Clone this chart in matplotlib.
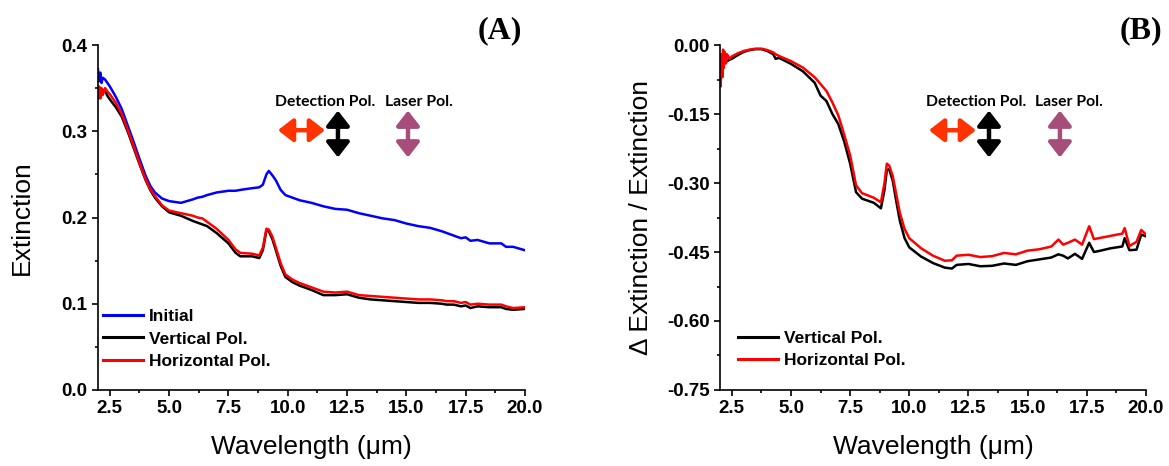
import matplotlib
matplotlib.use("Agg")
import matplotlib.pyplot as plt
from matplotlib.ticker import MultipleLocator, FormatStrFormatter, FuncFormatter

plt.rcParams['font.family'] = ['Liberation Sans', 'DejaVu Sans']
plt.rcParams['axes.unicode_minus'] = False

# ---- panel A data (wavelength in um, extinction) ----
wl_a = [2.0, 2.05, 2.1, 2.15, 2.2, 2.3, 2.4, 2.5, 2.75, 3.0, 3.25, 3.5, 3.75, 4.0, 4.2, 4.4,
        4.7, 5.0, 5.5, 6.0, 6.2, 6.4, 6.6, 7.0, 7.5, 7.8, 8.0, 8.5, 8.8, 8.95, 9.1, 9.2,
        9.35, 9.5, 9.7, 9.9, 10.2, 10.5, 11.0, 11.5, 12.0, 12.5, 13.0, 13.5, 14.0, 14.5,
        15.0, 15.5, 16.0, 16.5, 16.7, 17.0, 17.3, 17.5, 17.7, 18.0, 18.5, 19.0, 19.2, 19.5, 20.0]
initial_a = [0.372, 0.358, 0.368, 0.356, 0.362, 0.360, 0.356, 0.352, 0.340, 0.326, 0.307, 0.288,
             0.268, 0.249, 0.237, 0.229, 0.222, 0.219, 0.217, 0.221, 0.223, 0.224, 0.226, 0.229,
             0.231, 0.231, 0.232, 0.234, 0.235, 0.238, 0.250, 0.254, 0.249, 0.243, 0.232, 0.226,
             0.223, 0.220, 0.217, 0.213, 0.210, 0.209, 0.205, 0.202, 0.199, 0.197, 0.193, 0.190,
             0.188, 0.184, 0.182, 0.179, 0.176, 0.177, 0.173, 0.174, 0.170, 0.170, 0.166, 0.166, 0.162]
vertical_a = [0.345, 0.340, 0.350, 0.342, 0.348, 0.347, 0.341, 0.337, 0.328, 0.317, 0.300, 0.281,
              0.262, 0.244, 0.232, 0.223, 0.213, 0.206, 0.202, 0.196, 0.194, 0.192, 0.190, 0.182,
              0.170, 0.159, 0.155, 0.155, 0.153, 0.162, 0.185, 0.184, 0.175, 0.162, 0.144, 0.131,
              0.125, 0.121, 0.116, 0.110, 0.110, 0.111, 0.107, 0.105, 0.104, 0.103, 0.102, 0.101,
              0.101, 0.100, 0.099, 0.099, 0.097, 0.098, 0.095, 0.097, 0.096, 0.096, 0.094, 0.093, 0.094]
horizontal_a = [0.338, 0.352, 0.338, 0.350, 0.342, 0.350, 0.346, 0.343, 0.333, 0.320, 0.302, 0.283,
                0.263, 0.245, 0.233, 0.225, 0.214, 0.208, 0.205, 0.202, 0.200, 0.199, 0.195, 0.187,
                0.174, 0.163, 0.159, 0.158, 0.156, 0.165, 0.187, 0.186, 0.178, 0.165, 0.147, 0.134,
                0.128, 0.124, 0.119, 0.114, 0.113, 0.114, 0.110, 0.109, 0.108, 0.107, 0.106, 0.105,
                0.105, 0.104, 0.103, 0.103, 0.101, 0.102, 0.099, 0.100, 0.099, 0.099, 0.097, 0.095, 0.096]

# ---- panel B data (relative change of extinction) ----
wl_b = [2.0, 2.03, 2.06, 2.1, 2.13, 2.16, 2.2, 2.25, 2.3, 2.4, 2.5, 2.75, 3.0, 3.25, 3.5, 3.75,
        4.0, 4.25, 4.35, 4.5, 5.0, 5.5, 6.0, 6.25, 6.5, 6.75, 7.0, 7.25, 7.5, 7.75, 8.0, 8.5,
        8.8, 8.95, 9.05, 9.15, 9.3, 9.45, 9.6, 9.8, 10.0, 10.5, 11.0, 11.5, 11.8, 12.0, 12.5,
        13.0, 13.5, 14.0, 14.5, 15.0, 15.5, 16.0, 16.3, 16.5, 16.7, 17.0, 17.3, 17.6, 17.8,
        18.0, 18.5, 19.0, 19.1, 19.3, 19.6, 19.8, 20.0]
vertical_b = [-0.035, -0.045, -0.030, -0.040, -0.028, -0.035, -0.030, -0.034, -0.035, -0.032, -0.030,
              -0.022, -0.015, -0.011, -0.009, -0.009, -0.013, -0.020, -0.030, -0.028, -0.041, -0.057,
              -0.082, -0.110, -0.122, -0.150, -0.172, -0.210, -0.258, -0.320, -0.334, -0.343, -0.355,
              -0.315, -0.272, -0.270, -0.295, -0.340, -0.382, -0.420, -0.440, -0.460, -0.474, -0.484,
              -0.486, -0.478, -0.476, -0.481, -0.480, -0.475, -0.478, -0.470, -0.466, -0.462, -0.455,
              -0.458, -0.464, -0.454, -0.465, -0.430, -0.450, -0.448, -0.442, -0.438, -0.420, -0.446,
              -0.445, -0.412, -0.416]
horizontal_b = [-0.050, -0.090, -0.020, -0.070, -0.010, -0.050, -0.015, -0.040, -0.020, -0.030, -0.025,
                -0.018, -0.013, -0.010, -0.008, -0.008, -0.011, -0.016, -0.020, -0.024, -0.035, -0.049,
                -0.070, -0.085, -0.100, -0.125, -0.153, -0.195, -0.240, -0.305, -0.322, -0.332, -0.342,
                -0.300, -0.258, -0.262, -0.285, -0.325, -0.365, -0.400, -0.420, -0.442, -0.458, -0.469,
                -0.468, -0.458, -0.456, -0.461, -0.459, -0.452, -0.455, -0.447, -0.444, -0.438, -0.423,
                -0.434, -0.430, -0.423, -0.434, -0.394, -0.422, -0.420, -0.415, -0.410, -0.398, -0.437,
                -0.428, -0.402, -0.412]

RED = '#FF0000'
BLUE = '#0000FF'
ARROW_RED = '#FF3300'
MAUVE = '#A64D79'


def fmt(decimals):
    def f(v, pos):
        if abs(v) < 1e-9:
            v = 0.0
        return f'{v:.{decimals}f}'
    return FuncFormatter(f)


def style_axes(ax, ylim, ymajor, ydec):
    ax.set_xlim(2.0, 20.0)
    ax.set_ylim(*ylim)
    for side in ('top', 'right'):
        ax.spines[side].set_visible(False)
    for side in ('left', 'bottom'):
        ax.spines[side].set_linewidth(1.2)
    ax.xaxis.set_major_locator(MultipleLocator(2.5))
    ax.xaxis.set_minor_locator(MultipleLocator(1.25))
    ax.xaxis.set_major_formatter(FormatStrFormatter('%.1f'))
    ax.yaxis.set_major_locator(MultipleLocator(ymajor))
    ax.yaxis.set_minor_locator(MultipleLocator(ymajor / 2))
    ax.yaxis.set_major_formatter(fmt(ydec))
    ax.tick_params(which='major', direction='out', length=4.5, width=1.2, pad=3,
                   labelsize=13.5)
    ax.tick_params(which='minor', direction='out', length=2.5, width=1.2)
    for lab in ax.get_xticklabels() + ax.get_yticklabels():
        lab.set_fontweight('bold')
    ax.set_xlabel('Wavelength (μm)', fontsize=19, labelpad=13)


def pol_arrows(ax, x_text1, x_text2, red_x0, red_x1, black_x, mauve_x):
    for x, s in ((x_text1, 'Detection Pol.'), (x_text2, 'Laser Pol.')):
        ax.text(x, 0.835, s, transform=ax.transAxes, fontsize=11.3, fontweight='bold',
                family=['Lato', 'DejaVu Sans'], va='center', ha='left')
    style = '<|-|>,head_length=0.45,head_width=0.35'
    ax.annotate('', xy=(red_x1, 0.753), xytext=(red_x0, 0.753), xycoords='axes fraction',
                arrowprops=dict(arrowstyle=style, color=ARROW_RED, lw=3.2,
                                mutation_scale=20, shrinkA=0, shrinkB=0))
    for x, c in ((black_x, 'black'), (mauve_x, MAUVE)):
        ax.annotate('', xy=(x, 0.81), xytext=(x, 0.674), xycoords='axes fraction',
                    arrowprops=dict(arrowstyle=style, color=c, lw=3.2,
                                    mutation_scale=20, shrinkA=0, shrinkB=0))


def add_legend(ax, anchor):
    leg = ax.legend(loc='upper left', bbox_to_anchor=anchor, frameon=False,
                    borderpad=0, borderaxespad=0, handlelength=2.3, handletextpad=0.35,
                    labelspacing=0.42, prop={'weight': 'bold', 'size': 12.5})
    for line in leg.get_lines():
        line.set_linewidth(2.2)


fig = plt.figure(figsize=(11.69, 4.66), dpi=100)
ax_a = fig.add_axes([0.0838, 0.1631, 0.3653, 0.7403])
ax_b = fig.add_axes([0.6159, 0.1631, 0.3644, 0.7403])

# panel A
ax_a.plot(wl_a, initial_a, color=BLUE, lw=1.8, label='Initial')
ax_a.plot(wl_a, vertical_a, color='black', lw=1.8, label='Vertical Pol.')
ax_a.plot(wl_a, horizontal_a, color=RED, lw=1.8, label='Horizontal Pol.')
style_axes(ax_a, (0.0, 0.4), 0.1, 1)
ax_a.set_ylabel('Extinction', fontsize=19, labelpad=20)
add_legend(ax_a, (0.012, 0.235))
pol_arrows(ax_a, 0.414, 0.672, 0.4215, 0.5316, 0.562, 0.726)
fig.text(0.4466, 0.935, '(A)', fontsize=23, fontweight='bold',
         family=['Liberation Serif', 'DejaVu Serif'], ha='right', va='center')

# panel B
ax_b.plot(wl_b, vertical_b, color='black', lw=1.8, label='Vertical Pol.')
ax_b.plot(wl_b, horizontal_b, color=RED, lw=1.8, label='Horizontal Pol.')
style_axes(ax_b, (-0.75, 0.0), 0.15, 2)
ax_b.set_ylabel('Δ Extinction / Extinction', fontsize=19, labelpad=10)
add_legend(ax_b, (0.042, 0.172))
pol_arrows(ax_b, 0.4836, 0.7394, 0.4906, 0.601, 0.6315, 0.798)
fig.text(0.994, 0.935, '(B)', fontsize=23, fontweight='bold',
         family=['Liberation Serif', 'DejaVu Serif'], ha='right', va='center')

fig.savefig('out.png', dpi=100)
